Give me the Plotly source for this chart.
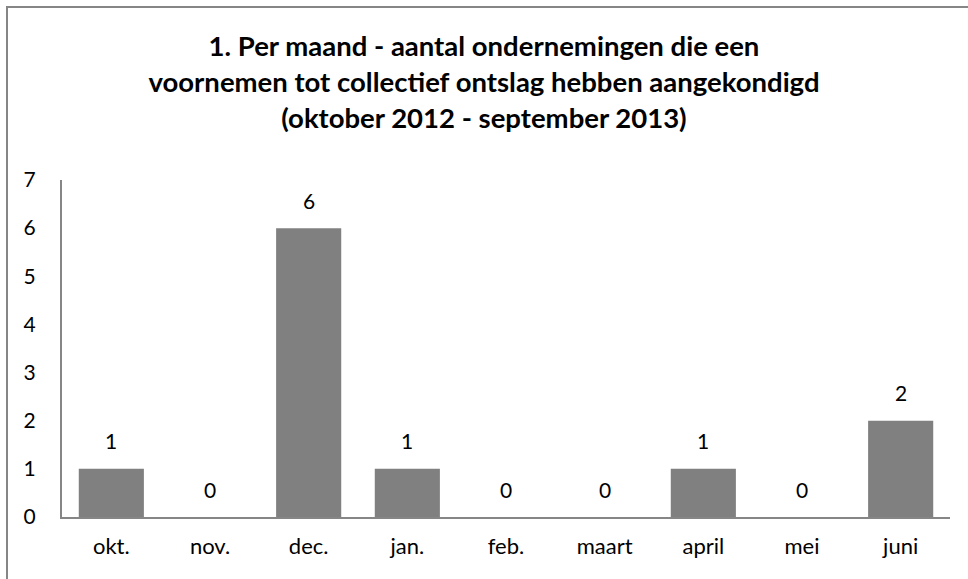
import plotly.graph_objects as go

months = ["okt.", "nov.", "dec.", "jan.", "feb.", "maart", "april", "mei", "juni"]
counts = [1, 0, 6, 1, 0, 0, 1, 0, 2]
y_ticks = [0, 1, 2, 3, 4, 5, 6, 7]

title_text = ("1. Per maand - aantal ondernemingen die een<br>"
              "voornemen tot collectief ontslag hebben aangekondigd<br>"
              "(oktober 2012 - september 2013)")

W, H = 968, 579
L, R, T, B = 62, 18, 180, 62
pw, ph = W - L - R, H - T - B
FONT = "Lato, Open Sans, sans-serif"

fig = go.Figure()
fig.add_trace(go.Bar(
    x=months, y=counts,
    marker=dict(color="#808080", line=dict(width=0)),
    hoverinfo="x+y",
))

for m, v in zip(months, counts):
    fig.add_annotation(x=m, y=v, text=str(v), showarrow=False,
                       xanchor="center", yanchor="middle", yshift=28,
                       font=dict(size=21, color="#000000", family=FONT))

def px_x(p):
    return (p - L) / pw

def px_y(p):
    return (H - B - p) / ph

fig.update_layout(
    width=W, height=H,
    margin=dict(l=L, r=R, t=T, b=B, autoexpand=False),
    paper_bgcolor="white", plot_bgcolor="white",
    bargap=0.34,
    showlegend=False,
    font=dict(family=FONT, color="#000000", size=21),
    title=dict(text=title_text, x=0.5, xanchor="center", y=1 - 56 / H, yanchor="middle",
               font=dict(size=27.5, family=FONT, color="#000000", weight="bold")),
    xaxis=dict(showgrid=False, showline=True, linecolor="#868686", linewidth=2,
               ticks="", tickfont=dict(size=22), ticklabelstandoff=9, zeroline=False,
               automargin=False),
    yaxis=dict(range=[0, 7], tickvals=y_ticks, showgrid=False, showline=True,
               linecolor="#868686", linewidth=2, ticks="", tickfont=dict(size=21),
               ticklabelstandoff=20, zeroline=False, automargin=False),
    shapes=[dict(type="rect", xref="paper", yref="paper",
                 x0=px_x(7), x1=px_x(980), y0=px_y(590), y1=px_y(7),
                 line=dict(color="#868686", width=2), fillcolor="rgba(0,0,0,0)", layer="below")],
)

fig.write_html("out.html",
               config={"displayModeBar": False},
               post_script="document.body.style.margin='0';document.body.style.overflow='hidden';"
                           "document.documentElement.style.overflow='hidden';")
